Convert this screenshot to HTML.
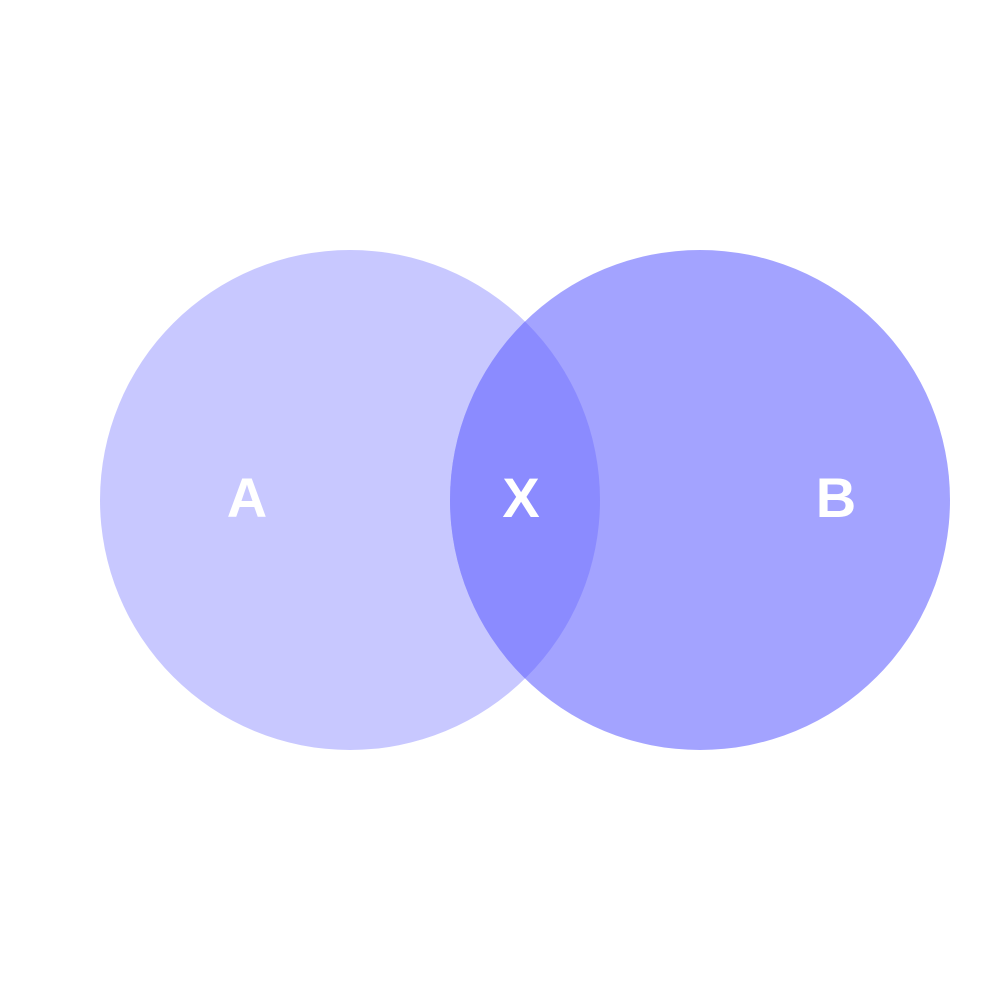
<!DOCTYPE html>
<html>
<head>
<meta charset="utf-8">
<style>
  html, body { margin: 0; padding: 0; background: #ffffff; }
  svg { display: block; }
  text { font-family: "Liberation Sans", sans-serif; font-weight: bold; fill: #ffffff; }
</style>
</head>
<body>
<svg id="chart" width="1000" height="1000" viewBox="0 0 1000 1000"></svg>
<script>
const setLabels = ["A", "B"];
const setCentersX = [350, 700];
const setRadii = [250, 250];
const overlapLabel = "X";

const NS = "http://www.w3.org/2000/svg";
const svg = document.getElementById("chart");
const cy = 500;
const colors = ["#c8c8ff", "#a3a3ff"];

const defs = document.createElementNS(NS, "defs");
const clip = document.createElementNS(NS, "clipPath");
clip.setAttribute("id", "clipA");
const cc = document.createElementNS(NS, "circle");
cc.setAttribute("cx", setCentersX[0]);
cc.setAttribute("cy", cy);
cc.setAttribute("r", setRadii[0]);
clip.appendChild(cc);
defs.appendChild(clip);
svg.appendChild(defs);

setLabels.forEach((lab, i) => {
  const c = document.createElementNS(NS, "circle");
  c.setAttribute("cx", setCentersX[i]);
  c.setAttribute("cy", cy);
  c.setAttribute("r", setRadii[i]);
  c.setAttribute("fill", colors[i]);
  
  
  svg.appendChild(c);
});

const inter = document.createElementNS(NS, "circle");
inter.setAttribute("cx", setCentersX[1]);
inter.setAttribute("cy", cy);
inter.setAttribute("r", setRadii[1]);
inter.setAttribute("fill", "#8b8bff");
inter.setAttribute("clip-path", "url(#clipA)");


svg.appendChild(inter);

function addLabel(txt, x, name) {
  const t = document.createElementNS(NS, "text");
  t.setAttribute("x", x);
  t.setAttribute("y", 517);
  t.setAttribute("text-anchor", "middle");
  t.setAttribute("font-size", "56");
  t.textContent = txt;
  
  
  svg.appendChild(t);
}
const leftEdgeB = setCentersX[1] - setRadii[1];
const rightEdgeA = setCentersX[0] + setRadii[0];
addLabel(setLabels[0], (setCentersX[0] - setRadii[0] + leftEdgeB) / 2 - 28, "label-a");
addLabel(setLabels[1], (rightEdgeA + setCentersX[1] + setRadii[1]) / 2 + 61, "label-b");
addLabel(overlapLabel, (leftEdgeB + rightEdgeA) / 2 - 4, "label-x");
</script>
</body>
</html>
